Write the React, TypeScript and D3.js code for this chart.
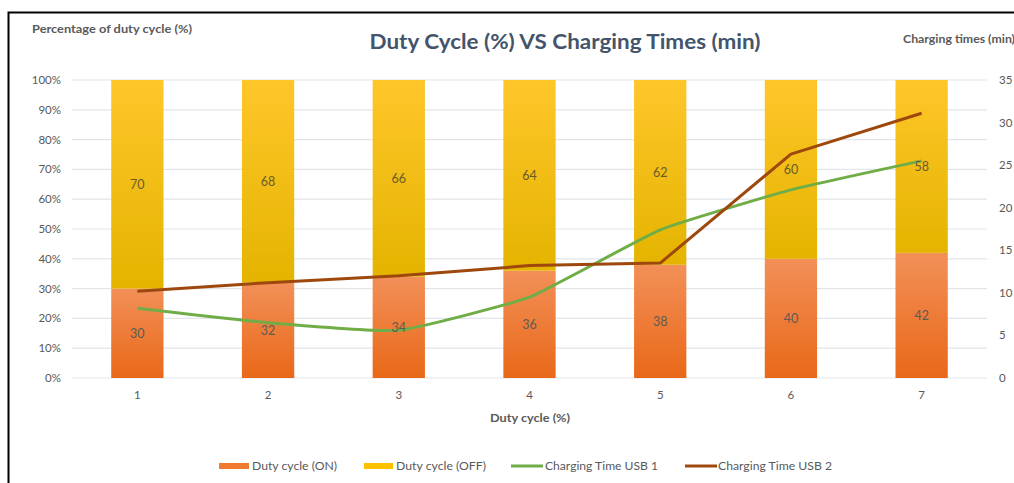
import React from "react";
import * as d3 from "d3";

const categories = ["1", "2", "3", "4", "5", "6", "7"];
const dutyOn = [30, 32, 34, 36, 38, 40, 42];
const dutyOff = [70, 68, 66, 64, 62, 60, 58];
const usb1 = [8.2, 6.5, 5.6, 9.5, 17.4, 22.1, 25.5];
const usb2 = [10.2, 11.2, 12.0, 13.2, 13.5, 26.3, 31.1];
const leftTicks = [0, 10, 20, 30, 40, 50, 60, 70, 80, 90, 100];
const rightTicks = [0, 5, 10, 15, 20, 25, 30, 35];

const W = 1014, H = 483;
const left = 72, right = 987, top = 80, bottom = 378;
const FONT = "Lato, 'Open Sans', sans-serif";
const TXT = "#595959";

export default function App() {
  const x = d3.scaleBand<string>().domain(categories).range([left, right]).paddingInner(0.6).paddingOuter(0.3);
  const yL = d3.scaleLinear().domain([0, 100]).range([bottom, top]);
  const yR = d3.scaleLinear().domain([0, 35]).range([bottom, top]);
  const cx = (c: string) => (x(c) ?? 0) + x.bandwidth() / 2;

  const line1 = d3.line<number>().x((_, i) => cx(categories[i])).y((d) => yR(d)).curve(d3.curveCardinal.tension(0.6));
  const line2 = d3.line<number>().x((_, i) => cx(categories[i])).y((d) => yR(d));

  return (
    <svg width={W} height={H} style={{ position: "absolute", left: 0, top: 0, background: "#fff" }} fontFamily={FONT}>
      <defs>
        <linearGradient id="gOn" x1="0" y1="0" x2="0" y2="1">
          <stop offset="0" stopColor="#F29058" />
          <stop offset="1" stopColor="#E96818" />
        </linearGradient>
        <linearGradient id="gOff" x1="0" y1="0" x2="0" y2="1">
          <stop offset="0" stopColor="#FFC62A" />
          <stop offset="1" stopColor="#E4B400" />
        </linearGradient>
      </defs>
      <rect x={0} y={0} width={W} height={H} fill="#fff" />
      <path d={`M8.5,${H} V12.5 H${W}`} fill="none" stroke="#000" strokeWidth={2} />

      {leftTicks.map((t) => (
        <line key={t} x1={left} x2={right} y1={yL(t)} y2={yL(t)} stroke="#E3E5EA" strokeWidth={1.2} />
      ))}
      {leftTicks.map((t) => (
        <text key={t} x={61} y={yL(t) + 4} textAnchor="end" fontSize={11.5} fill={TXT}>{t}%</text>
      ))}
      {rightTicks.map((t) => (
        <text key={t} x={999} y={yR(t) + 4} textAnchor="start" fontSize={11.5} fill={TXT}>{t}</text>
      ))}
      {categories.map((c) => (
        <text key={c} x={cx(c)} y={399} textAnchor="middle" fontSize={11.5} fill={TXT}>{c}</text>
      ))}

      {categories.map((c, i) => (
        <g key={c}>
          <rect x={x(c)} width={x.bandwidth()} y={yL(dutyOn[i])} height={yL(0) - yL(dutyOn[i])} fill="url(#gOn)" />
          <rect x={x(c)} width={x.bandwidth()} y={yL(dutyOn[i] + dutyOff[i])} height={yL(dutyOn[i]) - yL(dutyOn[i] + dutyOff[i])} fill="url(#gOff)" />
        </g>
      ))}

      <path d={line1(usb1) ?? ""} fill="none" stroke="#70AD47" strokeWidth={3} strokeLinejoin="round" />
      <path d={line2(usb2) ?? ""} fill="none" stroke="#9E480E" strokeWidth={3} strokeLinejoin="round" />

      {categories.map((c, i) => (
        <g key={c}>
          <text x={cx(c)} y={yL(dutyOn[i] / 2) + 5} textAnchor="middle" fontSize={12.5} fill="#5E5A55">{dutyOn[i]}</text>
          <text x={cx(c)} y={yL(dutyOn[i] + dutyOff[i] / 2) + 5} textAnchor="middle" fontSize={12.5} fill="#6B5B2A">{dutyOff[i]}</text>
        </g>
      ))}

      <text x={565} y={49} textAnchor="middle" fontSize={20} fontWeight="bold" fill="#44546A" textLength={391} lengthAdjust="spacingAndGlyphs">Duty Cycle (%) VS Charging Times (min)</text>
      <text x={32} y={33} fontSize={11} fontWeight="bold" fill={TXT} textLength={160} lengthAdjust="spacingAndGlyphs">Percentage of duty cycle (%)</text>
      <text x={903} y={43} fontSize={11} fontWeight="bold" fill={TXT} textLength={112} lengthAdjust="spacingAndGlyphs">Charging times (min)</text>
      <text x={530} y={422} textAnchor="middle" fontSize={11} fontWeight="bold" fill={TXT} textLength={80} lengthAdjust="spacingAndGlyphs">Duty cycle (%)</text>

      <g fontSize={11.5} fill={TXT}>
        <rect x={219} y={463} width={30} height={6} fill="#EF7A30" />
        <text x={252} y={470} textLength={85} lengthAdjust="spacingAndGlyphs">Duty cycle (ON)</text>
        <rect x={364} y={463} width={29} height={6} fill="#FFC000" />
        <text x={396} y={470} textLength={90} lengthAdjust="spacingAndGlyphs">Duty cycle (OFF)</text>
        <line x1={511} x2={543} y1={466} y2={466} stroke="#70AD47" strokeWidth={3} />
        <text x={545} y={470} textLength={113} lengthAdjust="spacingAndGlyphs">Charging Time USB 1</text>
        <line x1={685} x2={717} y1={466} y2={466} stroke="#9E480E" strokeWidth={3} />
        <text x={718} y={470} textLength={114} lengthAdjust="spacingAndGlyphs">Charging Time USB 2</text>
      </g>
    </svg>
  );
}
